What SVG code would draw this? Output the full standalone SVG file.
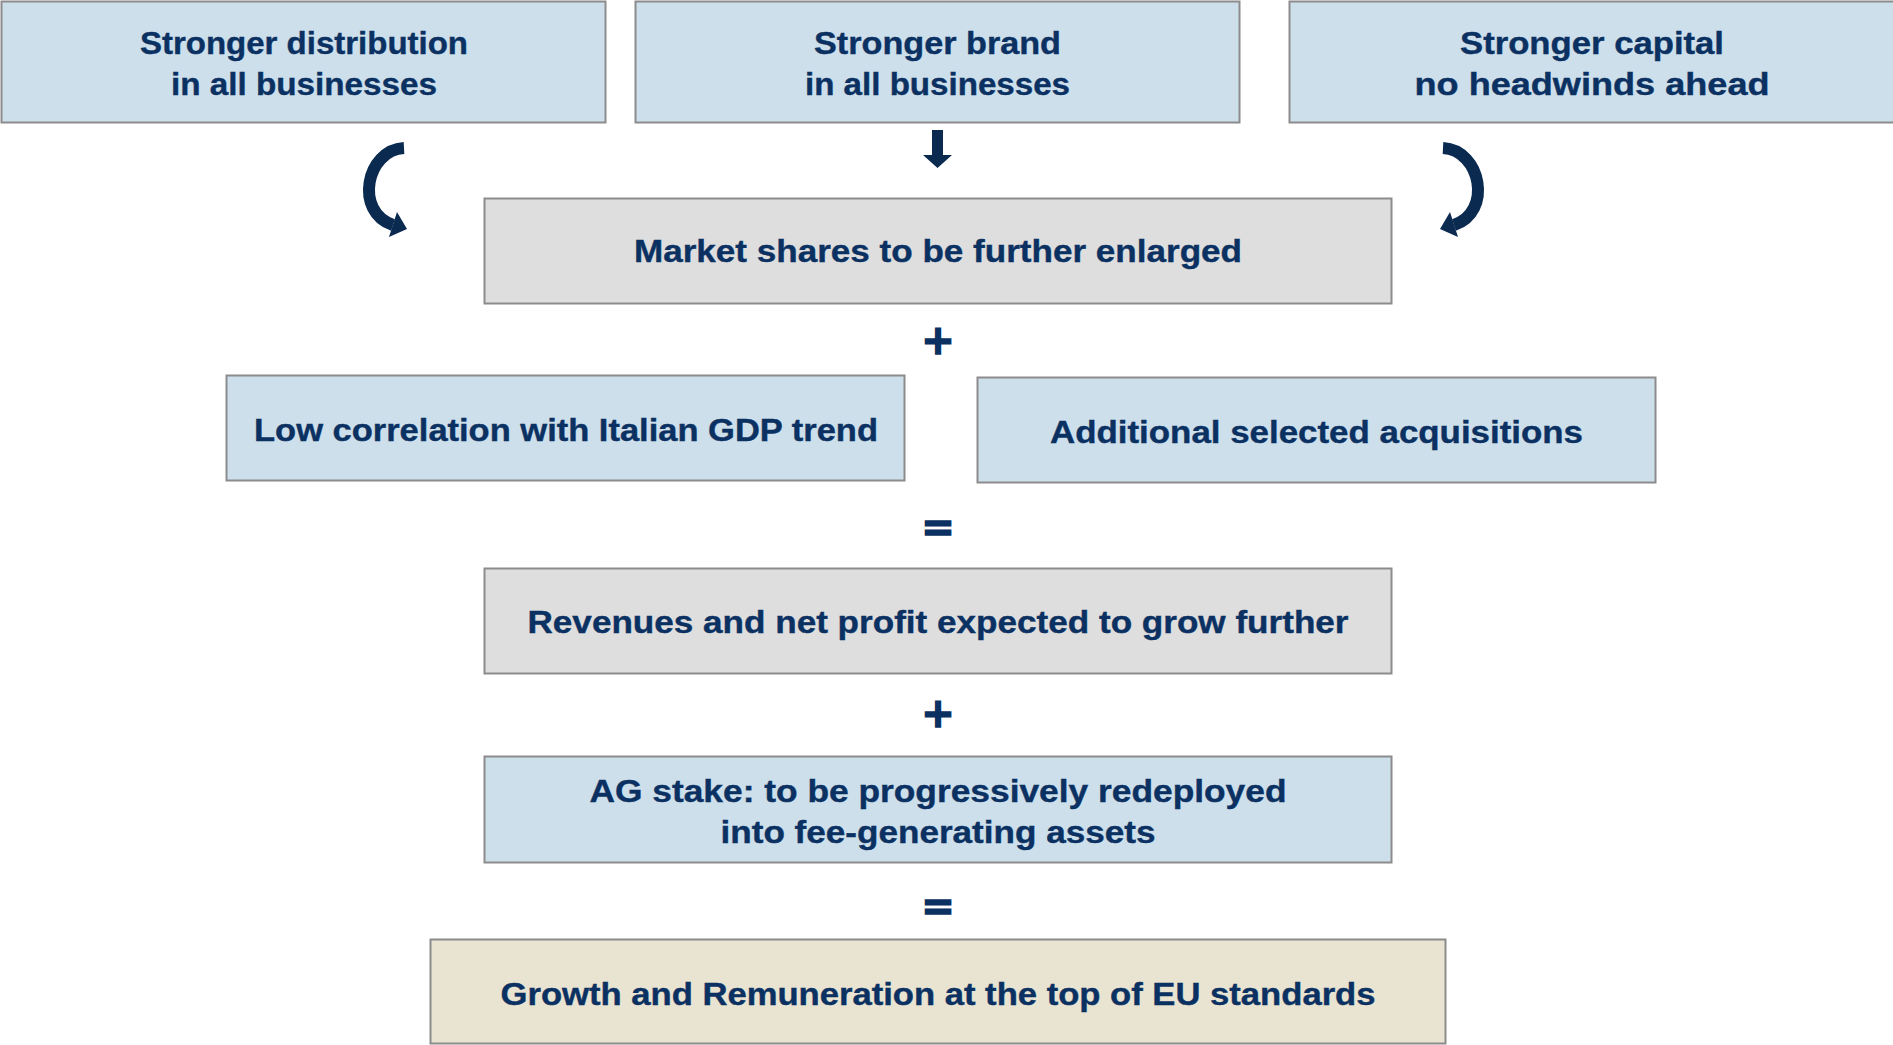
<svg xmlns="http://www.w3.org/2000/svg" width="1893" height="1045" viewBox="0 0 1893 1045">
<style>
.box{stroke:#8C8C8C;stroke-width:2}
.blue{fill:#CDDFEB}
.gray{fill:#DEDEDE}
.beige{fill:#E9E3D1}
.t{font-family:"Liberation Sans",Arial,sans-serif;font-weight:bold;font-size:32px;fill:#0B3162;stroke:#0B3162;stroke-width:0.4;text-anchor:middle}
.op{font-family:"DejaVu Sans",sans-serif;font-weight:bold;font-size:40px;fill:#0B3162;stroke:#0B3162;stroke-width:1.6;text-anchor:middle}
.arrow{fill:#0A2A50}
.arc{fill:none;stroke:#0A2A50;stroke-width:12}
</style>
<rect width="1893" height="1045" fill="#FFFFFF"/>

<g id="node-distribution">
<rect class="box blue" x="1.5" y="1.5" width="604" height="121"/>
<text class="t" x="304" y="54" textLength="328" lengthAdjust="spacingAndGlyphs">Stronger distribution</text>
<text class="t" x="304" y="95" textLength="266" lengthAdjust="spacingAndGlyphs">in all businesses</text>
</g>

<g id="node-brand">
<rect class="box blue" x="635.5" y="1.5" width="604" height="121"/>
<text class="t" x="937.5" y="54" textLength="247" lengthAdjust="spacingAndGlyphs">Stronger brand</text>
<text class="t" x="937.5" y="95" textLength="265" lengthAdjust="spacingAndGlyphs">in all businesses</text>
</g>

<g id="node-capital">
<rect class="box blue" x="1289.5" y="1.5" width="620" height="121"/>
<text class="t" x="1592" y="54" textLength="264" lengthAdjust="spacingAndGlyphs">Stronger capital</text>
<text class="t" x="1592" y="95" textLength="355" lengthAdjust="spacingAndGlyphs">no headwinds ahead</text>
</g>

<g id="node-market">
<rect class="box gray" x="484.5" y="198.5" width="907" height="105"/>
<text class="t" x="938" y="262" textLength="608" lengthAdjust="spacingAndGlyphs">Market shares to be further enlarged</text>
</g>

<g id="node-lowcorr">
<rect class="box blue" x="226.5" y="375.5" width="678" height="105"/>
<text class="t" x="566" y="441" textLength="624" lengthAdjust="spacingAndGlyphs">Low correlation with Italian GDP trend</text>
</g>

<g id="node-acquisitions">
<rect class="box blue" x="977.5" y="377.5" width="678" height="105"/>
<text class="t" x="1316.5" y="443" textLength="533" lengthAdjust="spacingAndGlyphs">Additional selected acquisitions</text>
</g>

<g id="node-revenues">
<rect class="box gray" x="484.5" y="568.5" width="907" height="105"/>
<text class="t" x="938" y="633" textLength="821" lengthAdjust="spacingAndGlyphs">Revenues and net profit expected to grow further</text>
</g>

<g id="node-agstake">
<rect class="box blue" x="484.5" y="756.5" width="907" height="106"/>
<text class="t" x="938" y="802" textLength="697" lengthAdjust="spacingAndGlyphs">AG stake: to be progressively redeployed</text>
<text class="t" x="938" y="843" textLength="435" lengthAdjust="spacingAndGlyphs">into fee-generating assets</text>
</g>

<g id="node-growth">
<rect class="box beige" x="430.5" y="939.5" width="1015" height="104"/>
<text class="t" x="938" y="1005" textLength="875" lengthAdjust="spacingAndGlyphs">Growth and Remuneration at the top of EU standards</text>
</g>

<g id="operators">
<text class="op" x="938" y="354">+</text>
<text class="op" x="938" y="541">=</text>
<text class="op" x="938" y="727">+</text>
<text class="op" x="938" y="920">=</text>
</g>

<g id="connectors">
<g id="arrow-left">
<path class="arc" d="M404 148 C366 150 354 212 393 225"/>
<polygon class="arrow" points="397,212 407,229 389,237"/>
</g>
<g id="arrow-right" transform="translate(1847,0) scale(-1,1)">
<path class="arc" d="M404 148 C366 150 354 212 393 225"/>
<polygon class="arrow" points="397,212 407,229 389,237"/>
</g>
<polygon id="arrow-down" class="arrow" points="932,130 943,130 943,155 952,155 937.5,168 923,155 932,155"/>
</g>
</svg>
